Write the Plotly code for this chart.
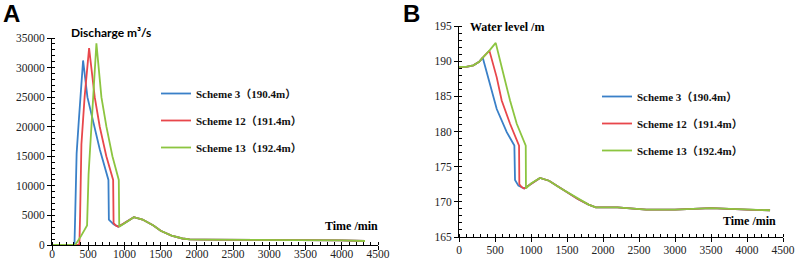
import plotly.graph_objects as go

# ---------------- data ----------------
# Panel A: discharge (m3/s) vs time (min)
tail_t = [1000, 1130, 1250, 1400, 1500, 1650, 1800, 1900, 2100, 2500, 3000, 3500, 4000, 4320]
tail_q = [3700, 4700, 4300, 3300, 2400, 1600, 1100, 950, 900, 880, 800, 850, 780, 680]

s3_t = [0, 310, 322, 340, 370, 400, 429, 489, 581, 659, 779, 785, 850, 915]
s3_q = [0, 0, 6000, 15500, 21000, 26500, 31200, 25000, 20000, 16200, 11000, 4300, 3500, 3100]

s12_t = [0, 378, 388, 406, 450, 512, 590, 659, 750, 844, 850, 880, 915]
s12_q = [0, 0, 5000, 17000, 25000, 33300, 25000, 20000, 15000, 11000, 3700, 3300, 3100]

s13_t = [0, 320, 400, 484, 505, 545, 585, 613, 682, 751, 834, 922, 928]
s13_q = [0, 0, 1500, 3300, 12000, 21000, 29000, 34100, 25000, 20000, 15000, 11000, 3100]

# Panel B: water level (m) vs time (min)
head_t = [0, 100, 200, 280]
head_h = [189.2, 189.2, 189.4, 189.9]

wtail_t = [1000, 1125, 1250, 1400, 1500, 1650, 1800, 1900, 2200, 2600, 3000, 3500, 4000, 4320]
wtail_h = [172.6, 173.4, 173.0, 172.0, 171.4, 170.4, 169.6, 169.2, 169.2, 168.9, 168.9, 169.1, 168.9, 168.8]

w3_t = [330, 431, 524, 663, 769, 778, 825, 905]
w3_h = [190.5, 186.8, 183.2, 179.9, 178.0, 173.1, 172.3, 171.9]

w12_t = [330, 380, 422, 524, 593, 709, 834, 838, 870, 905]
w12_h = [190.5, 191.0, 191.5, 187.7, 184.4, 181.1, 178.0, 172.5, 172.1, 171.9]

w13_t = [330, 380, 422, 470, 510, 616, 709, 802, 927, 930]
w13_h = [190.5, 191.0, 191.5, 192.1, 192.6, 188.2, 184.4, 181.1, 178.0, 171.9]

names = ["Scheme 3（190.4m）", "Scheme 12（191.4m）", "Scheme 13（192.4m）"]
colors = ["#3a80c8", "#e8474b", "#8cc540"]

# ---------------- figure ----------------
fig = go.Figure()

seriesA = [(s3_t, s3_q), (s12_t, s12_q), (s13_t, s13_q)]
for i, (t, q) in enumerate(seriesA):
    fig.add_trace(go.Scatter(
        x=t + tail_t, y=q + tail_q, mode="lines",
        line=dict(color=colors[i], width=1.8),
        name="<b>" + names[i] + "</b>", legend="legend",
        legendgroup="a%d" % i, xaxis="x", yaxis="y"))

seriesB = [(w3_t, w3_h), (w12_t, w12_h), (w13_t, w13_h)]
for i, (t, h) in enumerate(seriesB):
    fig.add_trace(go.Scatter(
        x=head_t + t + wtail_t, y=head_h + h + wtail_h, mode="lines",
        line=dict(color=colors[i], width=1.8),
        name="<b>" + names[i] + "</b>", legend="legend2",
        legendgroup="b%d" % i, xaxis="x2", yaxis="y2"))

tickfont = dict(family="Liberation Serif", size=11.5, color="#222")
common_x = dict(range=[0, 4500], dtick=500, showline=True, linecolor="black", linewidth=1,
                ticks="outside", ticklen=4, tickcolor="black", showgrid=False, zeroline=False,
                automargin=False, tickfont=tickfont,
                minor=dict(dtick=100, ticks="inside", ticklen=3, tickcolor="black"))
common_y = dict(showline=True, linecolor="black", linewidth=1, tickformat="d",
                ticks="outside", ticklen=4, tickcolor="black", showgrid=False, zeroline=False,
                automargin=False, tickfont=tickfont)

W, H = 796, 264
legfont = dict(family="Liberation Serif, Noto Sans CJK SC", size=11, color="#111")
fig.update_layout(
    width=W, height=H, template="none",
    margin=dict(l=0, r=0, t=0, b=0),
    plot_bgcolor="white", paper_bgcolor="white",
    xaxis=dict(domain=[52 / W, 378 / W], anchor="y", ticklabelstandoff=-6, **common_x),
    yaxis=dict(domain=[1 - 245 / H, 1 - 38 / H], anchor="x", range=[0, 35000], dtick=5000,
               minor=dict(dtick=1000, ticks="inside", ticklen=3, tickcolor="black"), **common_y),
    xaxis2=dict(domain=[459 / W, 783 / W], anchor="y2", ticklabelstandoff=-2, **common_x),
    yaxis2=dict(domain=[1 - 237 / H, 1 - 26 / H], anchor="x2", range=[165, 195], dtick=5,
                minor=dict(dtick=1, ticks="inside", ticklen=3, tickcolor="black"), **common_y),
    legend=dict(x=156 / W, y=1 - 79 / H, xanchor="left", yanchor="top",
                bgcolor="rgba(0,0,0,0)", tracegroupgap=8, font=legfont),
    legend2=dict(x=597 / W, y=1 - 82 / H, xanchor="left", yanchor="top",
                 bgcolor="rgba(0,0,0,0)", tracegroupgap=8, font=legfont),
    showlegend=True,
)

ann = [
    dict(text="<b>A</b>", x=1 / W, y=1 - 14 / H, font=dict(family="Liberation Sans", size=24, color="black"),
         xanchor="left"),
    dict(text="<b>B</b>", x=401 / W, y=1 - 14 / H, font=dict(family="Liberation Sans", size=24, color="black"),
         xanchor="left"),
    dict(text="<b>Discharge m³/s</b>", x=69 / W, y=1 - 32 / H,
         font=dict(family="Lato", size=12, color="black"), xanchor="left"),
    dict(text="<b>Water level /m</b>", x=468 / W, y=1 - 27 / H,
         font=dict(family="Liberation Serif", size=12, color="black"), xanchor="left"),
    dict(text="<b>Time /min</b>", x=323 / W, y=1 - 226 / H,
         font=dict(family="Liberation Serif", size=12, color="black"), xanchor="left"),
    dict(text="<b>Time /min</b>", x=721 / W, y=1 - 221 / H,
         font=dict(family="Liberation Serif", size=12, color="black"), xanchor="left"),
]
for a in ann:
    a.update(xref="paper", yref="paper", showarrow=False, yanchor="middle")
fig.update_layout(annotations=ann)

fig.write_html("out.html", config={"displayModeBar": False},
               post_script="document.body.style.margin='0';")
